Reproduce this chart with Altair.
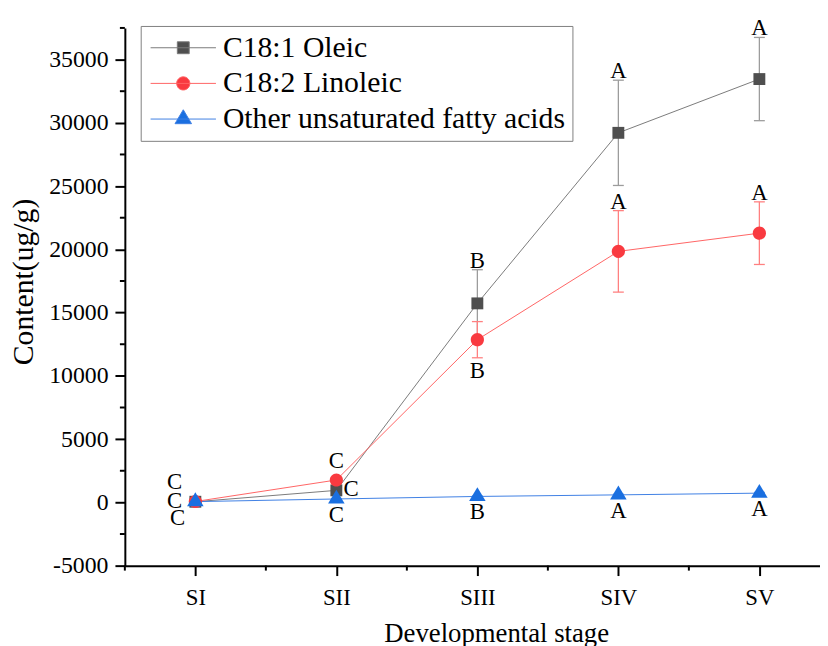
import altair as alt
import pandas as pd

# ---------------- data ----------------
stages = ["SI", "SII", "SIII", "SIV", "SV"]
stage_pos = [1, 2, 3, 4, 5]
series = ["C18:1 Oleic", "C18:2 Linoleic", "Other unsaturated fatty acids"]

oleic_mean = [50, 950, 15730, 29210, 33460]
oleic_sd = [30, 120, 2660, 4160, 3290]
linoleic_mean = [70, 1770, 12860, 19840, 21280]
linoleic_sd = [40, 150, 1430, 3220, 2475]
other_mean = [60, 270, 470, 595, 730]
other_sd = [10, 20, 40, 50, 60]

oleic_letters = ["C", "C", "B", "A", "A"]
linoleic_letters = ["C", "C", "B", "A", "A"]
other_letters = ["C", "C", "B", "A", "A"]

oleic_place = ["left_mid", "right", "above_err", "above_err", "above_err"]
linoleic_place = ["left_up", "above", "below_err", "above_err", "above_err"]
other_place = ["left_down", "below", "below", "below", "below"]

y_ticks = [-5000, 0, 5000, 10000, 15000, 20000, 25000, 30000, 35000]
y_minor = [-2500, 2500, 7500, 12500, 17500, 22500, 27500, 32500, 37500]
x_minor = [0.5, 1.5, 2.5, 3.5, 4.5]

# ---------------- style ----------------
FONT = "Liberation Serif"
marker_colors = ["#4f4f4f", "#f93a40", "#1a6fe0"]
line_colors = ["#7a7a7a", "#ff6464", "#3f80e4"]
err_colors = ["#9c9c9c", "#ff8080", "#6b9be8"]

shape_paths = [
    "M-1,-1H1V1H-1Z",
    "M-1.11,0A1.11,1.11,0,1,1,1.11,0A1.11,1.11,0,1,1,-1.11,0Z",
    "M0,-1.56L1.39,0.78L-1.39,0.78Z",
]
legend_paths = ["M-5.5,0H5.5" + p for p in shape_paths]

offsets = {
    "above_err": (0, -2),
    "below_err": (0, 20),
    "above": (0, -12),
    "below": (0, 23),
    "right": (15, 6),
    "left_up": (-21, -13),
    "left_mid": (-21, 6),
    "left_down": (-18, 24),
}

rows = []
for name, means, sds, letters, places in [
    (series[0], oleic_mean, oleic_sd, oleic_letters, oleic_place),
    (series[1], linoleic_mean, linoleic_sd, linoleic_letters, linoleic_place),
    (series[2], other_mean, other_sd, other_letters, other_place),
]:
    for pos, m, s, l, p in zip(stage_pos, means, sds, letters, places):
        if p == "above_err":
            anc = m + s
        elif p == "below_err":
            anc = m - s
        else:
            anc = m
        rows.append(dict(series=name, stage=pos, mean=m, lo=m - s, hi=m + s,
                         letter=l, place=p, anchor=anc))
df = pd.DataFrame(rows)

xscale = alt.Scale(domain=[0.5, 5.43], nice=False, zero=False)
yscale = alt.Scale(domain=[-5000, 37500], nice=False, zero=False)

label_expr_x = "[" + ",".join(repr(s) for s in stages) + "][datum.value - 1]"

xaxis = alt.Axis(
    values=stage_pos, labelExpr=label_expr_x, title="Developmental stage",
    grid=False, domainColor="black", domainWidth=2, tickColor="black",
    tickWidth=2, tickSize=10, labelFont=FONT, labelFontSize=23,
    labelColor="black", labelPadding=11, labelFlush=False, labelOverlap=False,
    titleFont=FONT, titleFontSize=27, titleFontWeight="normal",
    titleColor="black", titleX=375, titleY=77, titleBaseline="alphabetic",
    titleAlign="center",
)
yaxis = alt.Axis(
    values=y_ticks, labelExpr="datum.value + ''", title="Content(ug/g)",
    grid=False, domainColor="black", domainWidth=2, tickColor="black",
    tickWidth=2, tickSize=10, labelFont=FONT, labelFontSize=24,
    labelColor="black", labelPadding=7, labelOverlap=False,
    titleFont=FONT, titleFontSize=30, titleFontWeight="normal",
    titleColor="black", titleAngle=270, titleX=-93, titleY=256,
    titleBaseline="alphabetic", titleAlign="center",
)

legend = alt.Legend(
    orient="none", legendX=16, legendY=-2, title=None,
    labelFont=FONT, labelFontSize=30, labelColor="black", labelLimit=1000,
    symbolSize=144, symbolOffset=21, labelOffset=25, padding=7,
    rowPadding=6, strokeColor="#7f7f7f", fillColor="white",
    symbolStrokeWidth=1, symbolOpacity=1,
)

base = alt.Chart(df)
X = alt.X("stage:Q", scale=xscale, axis=xaxis)


def Y(field):
    return alt.Y(field, scale=yscale, axis=yaxis)


lines = base.mark_line(strokeWidth=1).encode(
    x=X, y=Y("mean:Q"),
    stroke=alt.Stroke("series:N", scale=alt.Scale(domain=series, range=line_colors), legend=None),
)

errcolor = alt.Color("series:N", scale=alt.Scale(domain=series, range=err_colors), legend=None)
err_rules = base.mark_rule(strokeWidth=1.3).encode(
    x=X, y=Y("lo:Q"), y2="hi:Q", color=errcolor,
)
cap_top = base.mark_tick(orient="horizontal", size=11, thickness=1.3, opacity=1).encode(
    x=X, y=Y("hi:Q"), color=errcolor,
)
cap_bot = base.mark_tick(orient="horizontal", size=11, thickness=1.3, opacity=1).encode(
    x=X, y=Y("lo:Q"), color=errcolor,
)

markers = base.mark_point(filled=True, size=144, opacity=1).encode(
    x=X, y=Y("mean:Q"),
    fill=alt.Fill("series:N", scale=alt.Scale(domain=series, range=marker_colors), legend=None),
    shape=alt.Shape("series:N", scale=alt.Scale(domain=series, range=shape_paths), legend=None),
)

# invisible layer that only feeds the legend (line + marker symbols)
legend_layer = base.mark_point(filled=True, size=144, opacity=0).encode(
    x=X, y=Y("mean:Q"),
    fill=alt.Fill("series:N", scale=alt.Scale(domain=series, range=marker_colors), legend=legend),
    shape=alt.Shape("series:N", scale=alt.Scale(domain=series, range=legend_paths), legend=legend),
    stroke=alt.Stroke("series:N", scale=alt.Scale(domain=series, range=line_colors), legend=legend),
)

texts = []
for key, (dx, dy) in offsets.items():
    texts.append(
        base.transform_filter(alt.datum.place == key)
        .mark_text(dx=dx, dy=dy, font=FONT, fontSize=23, color="black",
                   align="center", baseline="alphabetic")
        .encode(x=X, y=Y("anchor:Q"), text="letter:N")
    )

ymin_df = pd.DataFrame({"v": y_minor})
xmin_df = pd.DataFrame({"v": x_minor})
y_minor_ticks = alt.Chart(ymin_df).mark_rule(color="black", strokeWidth=2).encode(
    y=Y("v:Q"), x=alt.value(-5), x2=alt.value(0),
)
x_minor_ticks = alt.Chart(xmin_df).mark_rule(color="black", strokeWidth=2).encode(
    x=alt.X("v:Q", scale=xscale, axis=xaxis), y=alt.value(543), y2=alt.value(548),
)

chart = alt.layer(
    lines, err_rules, cap_top, cap_bot, markers, legend_layer, *texts,
    y_minor_ticks, x_minor_ticks
).resolve_scale(
    fill="independent", shape="independent", stroke="independent"
).properties(
    width=702, height=543,
    autosize=alt.AutoSizeParams(type="none"),
    padding={"left": 118, "top": 17, "right": 0, "bottom": 78},
    background="white",
).configure_view(stroke=None)

chart.save("out.html", embed_options={"renderer": "svg", "actions": False})
